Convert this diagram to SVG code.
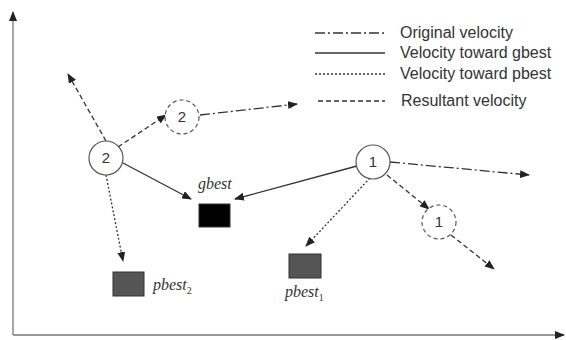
<svg xmlns="http://www.w3.org/2000/svg" width="566" height="340" viewBox="0 0 566 340">
<style>
.ln{stroke:#333;stroke-width:1.3;fill:none}
.orig{stroke-dasharray:10,3,2,3}
.pb{stroke-dasharray:2,2}
.res{stroke-dasharray:5,3}
.node{fill:#fff;stroke:#555;stroke-width:1.2}
.ghost{fill:#fff;stroke:#555;stroke-width:1.2;stroke-dasharray:4,3}
.num{font-family:"Liberation Sans",Arial,sans-serif;font-size:15px;fill:#333;text-anchor:middle}
.leg{font-family:"Liberation Sans",Arial,sans-serif;font-size:16px;fill:#333}
.lab{font-family:"Liberation Serif","Times New Roman",serif;font-style:italic;font-size:16px;fill:#333}
.sub{font-style:normal;font-size:10px}
</style>
<defs>
<marker id="ah" markerWidth="10" markerHeight="8" refX="9" refY="4" orient="auto" markerUnits="userSpaceOnUse">
<path d="M0,0 L10,4 L0,8 Z" fill="#222"/>
</marker>
</defs>
<rect width="566" height="340" fill="#fff"/>
<g id="axes">
<line class="ln" x1="13" y1="335" x2="13" y2="12" marker-end="url(#ah)" style="stroke:#777"/>
<line class="ln" x1="13" y1="335" x2="564" y2="335" marker-end="url(#ah)" style="stroke:#777"/>
</g>
<g id="legend">
<line class="ln orig" x1="315" y1="33" x2="385" y2="33"/>
<text class="leg" x="400" y="38">Original velocity</text>
<line class="ln" x1="315" y1="53" x2="385" y2="53"/>
<text class="leg" x="400" y="58">Velocity toward gbest</text>
<line class="ln pb" x1="315" y1="74" x2="385" y2="74"/>
<text class="leg" x="400" y="79">Velocity toward pbest</text>
<line class="ln res" x1="318" y1="101" x2="385" y2="101"/>
<text class="leg" x="401" y="106">Resultant velocity</text>
</g>
<g id="connectors">
<line class="ln res" x1="106" y1="141" x2="68" y2="74" marker-end="url(#ah)"/>
<line class="ln res" x1="118" y1="147" x2="166" y2="115" marker-end="url(#ah)"/>
<line class="ln orig" x1="200" y1="115" x2="297" y2="104" marker-end="url(#ah)"/>
<line class="ln" x1="123" y1="163" x2="191" y2="199" marker-end="url(#ah)"/>
<line class="ln pb" x1="106" y1="175" x2="123" y2="261" marker-end="url(#ah)"/>
<line class="ln" x1="357" y1="166" x2="235" y2="199" marker-end="url(#ah)"/>
<line class="ln pb" x1="370" y1="178" x2="306" y2="246" marker-end="url(#ah)"/>
<line class="ln orig" x1="390" y1="162" x2="529" y2="175" marker-end="url(#ah)"/>
<line class="ln res" x1="387" y1="175" x2="429" y2="209" marker-end="url(#ah)"/>
<line class="ln res" x1="451" y1="235" x2="494" y2="269" marker-end="url(#ah)"/>
</g>
<g id="particle2">
<circle class="node" cx="106" cy="158" r="17"/>
<text class="num" x="106" y="163">2</text>
</g>
<g id="particle2next">
<circle class="ghost" cx="182" cy="117" r="17"/>
<text class="num" x="182" y="122">2</text>
</g>
<g id="particle1">
<circle class="node" cx="373" cy="162" r="17"/>
<text class="num" x="373" y="167">1</text>
</g>
<g id="particle1next">
<circle class="ghost" cx="439" cy="222" r="17"/>
<text class="num" x="439" y="227">1</text>
</g>
<g id="gbest">
<rect x="199" y="204" width="31" height="23" fill="#000" stroke="#333"/>
<text class="lab" x="198" y="189">gbest</text>
</g>
<g id="pbest2">
<rect x="113" y="272" width="31" height="24" fill="#555" stroke="#333"/>
<text class="lab" x="153" y="290">pbest<tspan class="sub" dy="4">2</tspan></text>
</g>
<g id="pbest1">
<rect x="289" y="254" width="32" height="24" fill="#555" stroke="#333"/>
<text class="lab" x="285" y="297">pbest<tspan class="sub" dy="4">1</tspan></text>
</g>
</svg>
